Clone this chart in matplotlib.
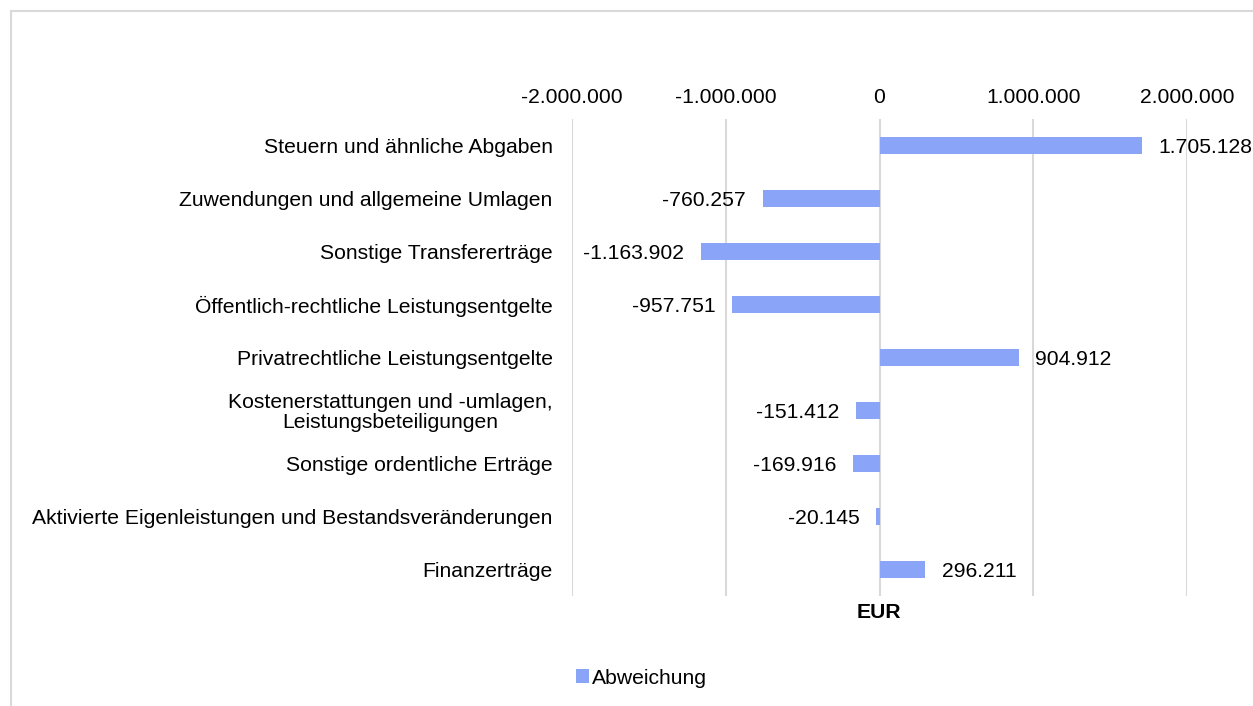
import matplotlib.pyplot as plt
from matplotlib.patches import Rectangle
from matplotlib.ticker import FuncFormatter

plt.rcParams['font.family'] = ['Liberation Sans', 'DejaVu Sans']

categories = [
    "Steuern und ähnliche Abgaben",
    "Zuwendungen und allgemeine Umlagen",
    "Sonstige Transfererträge",
    "Öffentlich-rechtliche Leistungsentgelte",
    "Privatrechtliche Leistungsentgelte",
    "Kostenerstattungen und -umlagen,\nLeistungsbeteiligungen",
    "Sonstige ordentliche Erträge",
    "Aktivierte Eigenleistungen und Bestandsveränderungen",
    "Finanzerträge",
]
abweichung = [1705128, -760257, -1163902, -957751, 904912, -151412, -169916, -20145, 296211]
x_ticks = [-2000000, -1000000, 0, 1000000, 2000000]

bar_color = '#8AA4F7'
grid_color = '#D9D9D9'
fs = 15.2


def de_fmt(v, pos=None):
    return f"{v:,.0f}".replace(",", ".")


fig = plt.figure(figsize=(12.53, 7.06), dpi=100)
ax = fig.add_axes([572 / 1253, 1 - 596 / 706, 615 / 1253, 477 / 706])

y = list(range(len(categories)))
bars = ax.barh(y, abweichung, height=0.32, color=bar_color, label='Abweichung', zorder=3)

ax.set_ylim(len(categories) - 0.5, -0.5)
ax.set_xlim(-2000000, 2000000)
ax.set_xticks(x_ticks)
ax.xaxis.set_major_formatter(FuncFormatter(de_fmt))
ax.xaxis.tick_top()
ax.set_yticks(y)
ax.set_yticklabels(categories, multialignment='center', linespacing=1.0)
ax.tick_params(axis='x', length=0, pad=8.5, labelsize=fs)
ax.tick_params(axis='y', length=0, pad=14, labelsize=fs)
ax.grid(axis='x', color=grid_color, linewidth=1.5, zorder=0)
for s in ax.spines.values():
    s.set_visible(False)

for rect, v in zip(bars, abweichung):
    cy = rect.get_y() + rect.get_height() / 2
    if v >= 0:
        ax.annotate(de_fmt(v), (v, cy), xytext=(12, 0), textcoords='offset points',
                    ha='left', va='center_baseline', fontsize=fs)
    else:
        ax.annotate(de_fmt(v), (v, cy), xytext=(-12, 0), textcoords='offset points',
                    ha='right', va='center_baseline', fontsize=fs)

fig.text(879 / 1253, 1 - 613 / 706, 'EUR', ha='center', va='center',
         fontsize=fs, fontweight='bold')

fig.legend(handles=[bars], labels=['Abweichung'], loc='center left',
           bbox_to_anchor=(557 / 1253, 1 - 678 / 706), frameon=False,
           fontsize=fs, handlelength=0.6, handleheight=0.6, handletextpad=0.15)

fig.add_artist(Rectangle((11 / 1253, -0.1), 1.2, 1.1 - 11 / 706, transform=fig.transFigure,
                         fill=False, edgecolor=grid_color, linewidth=1.5))

fig.savefig('out.png', dpi=100)
